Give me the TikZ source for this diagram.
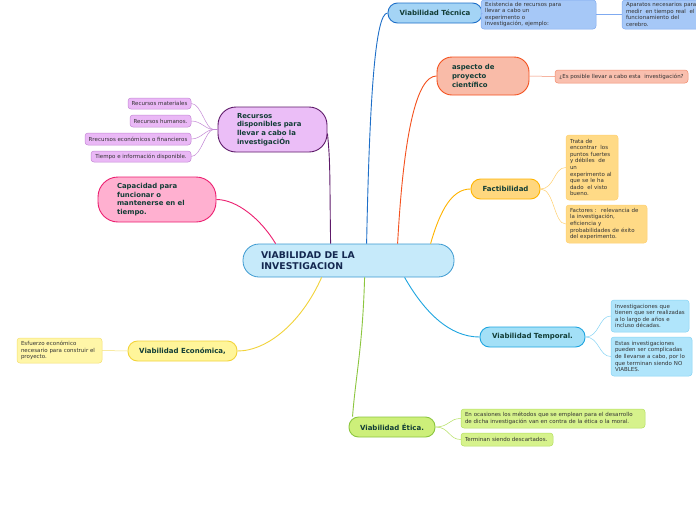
\documentclass[tikz,border=0pt]{standalone}
\usepackage{fontspec}
\setmainfont{DejaVu Sans}
\definecolor{ttl}{HTML}{123D36}
\definecolor{ctr}{HTML}{142850}
\definecolor{sml}{HTML}{333333}
\definecolor{cenF}{HTML}{C6EAFA}\definecolor{cenD}{HTML}{3D9AD1}
\definecolor{tecF}{HTML}{A4D4F5}\definecolor{tecD}{HTML}{1E6FC8}
\definecolor{tecCF}{HTML}{A6C8F7}\definecolor{tecCD}{HTML}{7FAAF0}
\definecolor{aspF}{HTML}{F9BBA8}\definecolor{aspD}{HTML}{F4511E}
\definecolor{aspCF}{HTML}{F9BFAE}\definecolor{aspCD}{HTML}{F28C6E}
\definecolor{facF}{HTML}{FFD77E}\definecolor{facD}{HTML}{FFB400}
\definecolor{facCF}{HTML}{FFDA86}\definecolor{facCD}{HTML}{FFD070}
\definecolor{temF}{HTML}{A3E0F7}\definecolor{temD}{HTML}{1EA5E0}
\definecolor{temCF}{HTML}{B0E5FB}\definecolor{temCD}{HTML}{86D4F5}
\definecolor{etiF}{HTML}{CDEF7A}\definecolor{etiD}{HTML}{8CC63F}
\definecolor{etiCF}{HTML}{D6F28C}\definecolor{etiCD}{HTML}{B4E060}
\definecolor{ecoF}{HTML}{FFF59A}\definecolor{ecoD}{HTML}{F2D33A}
\definecolor{ecoCF}{HTML}{FFF6A8}\definecolor{ecoCD}{HTML}{F5E070}
\definecolor{recF}{HTML}{EBBEF7}\definecolor{recD}{HTML}{5E1A6A}
\definecolor{recCF}{HTML}{EAB8F6}\definecolor{recCD}{HTML}{C489D6}
\definecolor{capF}{HTML}{FFB0D0}\definecolor{capD}{HTML}{EC1F70}
\tikzset{
  topic/.style={draw, line width=0.9pt, rounded corners=9.5pt, minimum height=20pt, inner sep=0pt,
    font=\fontsize{7}{8.5}\selectfont\bfseries, text=ttl, align=center},
  bigtopic/.style={draw, line width=0.9pt, inner ysep=0pt, align=left,
    font=\fontsize{6.9}{8.6}\selectfont\bfseries, text=ttl},
  leaf/.style={draw, line width=0.5pt, rounded corners=3pt, inner ysep=0pt, align=left,
    font=\fontsize{5.5}{6.6}\selectfont, text=sml},
  link/.style={line width=0.9pt},
  sub/.style={line width=0.5pt}
}
\begin{document}
\begin{tikzpicture}[x=1pt,y=-1pt]
\useasboundingbox (0,0) rectangle (696,520);
\fill[white] (0,0) rectangle (696,520);

% central
\node[draw=cenD, fill=cenF, line width=0.8pt, rounded corners=16pt, minimum width=211pt, minimum height=33pt,
  inner xsep=18pt, inner ysep=0pt, text width=175pt, align=left, font=\fontsize{9.3}{11}\selectfont\bfseries, text=ctr]
  (c) at (348.5,260.5) {VIABILIDAD DE LA\\INVESTIGACION};

% Tecnica
\node[topic, draw=tecD, fill=tecF, minimum width=94pt] (tec) at (435,13) {Viabilidad Técnica};
\node[leaf, draw=tecCD, fill=tecCF, minimum width=115pt, minimum height=29pt, inner xsep=4pt, text width=107pt]
  (tec1) at (538.5,14.5) {Existencia de recursos para\\llevar a cabo un\\experimento o\\investigación, ejemplo:};
\node[leaf, draw=tecCD, fill=tecCF, minimum width=115pt, minimum height=29pt, inner xsep=4pt, text width=107pt]
  (tec2) at (679.5,14.5) {Aparatos necesarios para\\medir \ en tiempo real \ el\\funcionamiento del\\cerebro.};

% aspecto
\node[bigtopic, draw=aspD, fill=aspF, rounded corners=15pt, minimum width=92pt, minimum height=38pt, inner xsep=15pt, text width=62pt]
  (asp) at (483,76) {aspecto de\\proyecto\\científico};
\node[leaf, draw=aspCD, fill=aspCF, minimum width=133pt, minimum height=13pt, inner xsep=3pt, align=center]
  (asp1) at (621.5,76.5) {¿Es posible llevar a cabo esta \ investigación?};

% Factibilidad
\node[topic, draw=facD, fill=facF, minimum width=69pt] (fac) at (505.5,189) {Factibilidad};
\node[leaf, draw=facCD, fill=facCF, minimum width=52pt, minimum height=65pt, inner xsep=4pt, text width=44pt]
  (fac1) at (592,167.5) {Trata de\\encontrar \ los\\puntos fuertes\\y débiles \ de\\un\\experimento al\\que se le ha\\dado \ el visto\\bueno.};
\node[leaf, draw=facCD, fill=facCF, minimum width=81pt, minimum height=38pt, inner xsep=4pt, text width=73pt]
  (fac2) at (606.5,224) {Factores : \ relevancia de\\la investigación,\\eficiencia y\\probabilidades de éxito\\del experimento.};

% Temporal
\node[topic, draw=temD, fill=temF, minimum width=105pt] (tem) at (532.5,337) {Viabilidad Temporal.};
\node[leaf, draw=temCD, fill=temCF, minimum width=78pt, minimum height=32pt, inner xsep=4pt, text width=70pt]
  (tem1) at (650,316) {Investigaciones que\\tienen que ser realizadas\\a lo largo de años e\\incluso décadas.};
\node[leaf, draw=temCD, fill=temCF, minimum width=81pt, minimum height=39pt, inner xsep=4pt, text width=73pt]
  (tem2) at (651.5,356.5) {Estas investigaciones\\pueden ser complicadas\\de llevarse a cabo, por lo\\que terminan siendo NO\\VIABLES.};

% Etica
\node[topic, draw=etiD, fill=etiF, minimum width=86pt] (eti) at (392,427) {Viabilidad Ética.};
\node[leaf, draw=etiCD, fill=etiCF, minimum width=184pt, minimum height=19pt, inner xsep=4pt, text width=176pt]
  (eti1) at (553,418.5) {En ocasiones los métodos que se emplean para el desarrollo\\de dicha investigación van en contra de la ética o la moral.};
\node[leaf, draw=etiCD, fill=etiCF, minimum width=92pt, minimum height=13pt, inner xsep=4pt, text width=84pt]
  (eti2) at (507,439.5) {Terminan siendo descartados.};

% Economica
\node[topic, draw=ecoD, fill=ecoF, minimum width=109pt] (eco) at (182.5,351) {Viabilidad Económica,};
\node[leaf, draw=ecoCD, fill=ecoCF, minimum width=85pt, minimum height=25pt, inner xsep=4pt, text width=77pt]
  (eco1) at (59.5,350.5) {Esfuerzo económico\\necesario para construir el\\proyecto.};

% Recursos
\node[bigtopic, draw=recD, fill=recF, rounded corners=18pt, minimum width=109pt, minimum height=45pt, inner xsep=19pt, text width=71pt]
  (rec) at (272.5,129.5) {Recursos\\disponibles para\\llevar a cabo la\\investigaciÓn};
\node[leaf, draw=recCD, fill=recCF, minimum width=63pt, minimum height=11pt, inner xsep=2pt, align=center]
  (rec1) at (159.5,103.5) {Recursos materiales};
\node[leaf, draw=recCD, fill=recCF, minimum width=61pt, minimum height=12pt, inner xsep=2pt, align=center]
  (rec2) at (160.5,121) {Recursos humanos.};
\node[leaf, draw=recCD, fill=recCF, minimum width=106pt, minimum height=12pt, inner xsep=2pt, align=center]
  (rec3) at (138,139) {Rrecursos económicos o financieros};
\node[leaf, draw=recCD, fill=recCF, minimum width=100pt, minimum height=11pt, inner xsep=2pt, align=center]
  (rec4) at (141,156.5) {Tiempo e información disponible.};

% Capacidad
\node[bigtopic, draw=capD, fill=capF, rounded corners=20pt, minimum width=118pt, minimum height=45pt, inner xsep=19pt, text width=80pt]
  (cap) at (157,199.5) {Capacidad para\\funcionar o\\mantenerse en el\\tiempo.};

% main connectors
\draw[link, draw=tecD] ([xshift=124pt]c.north west) .. controls +(3,-150) and +(-12,0) .. (tec.west);
\draw[link, draw=aspD] ([xshift=155pt]c.north west) .. controls +(6,-110) and +(-20,0) .. (asp.west);
\draw[link, draw=facD] ([xshift=188pt]c.north west) .. controls +(10,-35) and +(-18,0) .. (fac.west);
\draw[link, draw=recD] ([xshift=88pt]c.north west) .. controls +(-1,-70) and +(3,30) .. ([yshift=-4pt]rec.east);
\draw[link, draw=capD] ([xshift=33pt]c.north west) .. controls +(-15,-25) and +(20,0) .. (cap.east);
\draw[link, draw=ecoD] ([xshift=79pt]c.south west) .. controls +(-20,45) and +(30,0) .. (eco.east);
\draw[link, draw=etiD] ([xshift=122pt]c.south west) .. controls +(-2,70) and +(3,-40) .. ([xshift=4pt]eti.north west);
\draw[link, draw=temD] ([xshift=162pt]c.south west) .. controls +(20,35) and +(-30,0) .. (tem.west);

% sub connectors
\draw[sub, draw=tecCD] (tec.east) -- (tec1.west);
\draw[sub, draw=tecCD] (tec1.east) -- (tec2.west);
\draw[sub, draw=aspCD] (asp.east) .. controls +(12,0) and +(-12,0) .. (asp1.west);
\foreach \k in {fac1,fac2}
  \draw[sub, draw=facCD] (fac.east) .. controls +(14,0) and +(-12,0) .. (\k.west);
\foreach \k in {tem1,tem2}
  \draw[sub, draw=temCD] (tem.east) .. controls +(14,0) and +(-12,0) .. (\k.west);
\foreach \k in {eti1,eti2}
  \draw[sub, draw=etiCD] (eti.east) .. controls +(14,0) and +(-12,0) .. (\k.west);
\draw[sub, draw=ecoCD] (eco.west) -- (eco1.east);
\foreach \k in {rec1,rec2,rec3,rec4}
  \draw[sub, draw=recCD] (rec.west) -- ++(-4,0) .. controls +(-8,0) and +(10,0) .. (\k.east);
\end{tikzpicture}
\end{document}
